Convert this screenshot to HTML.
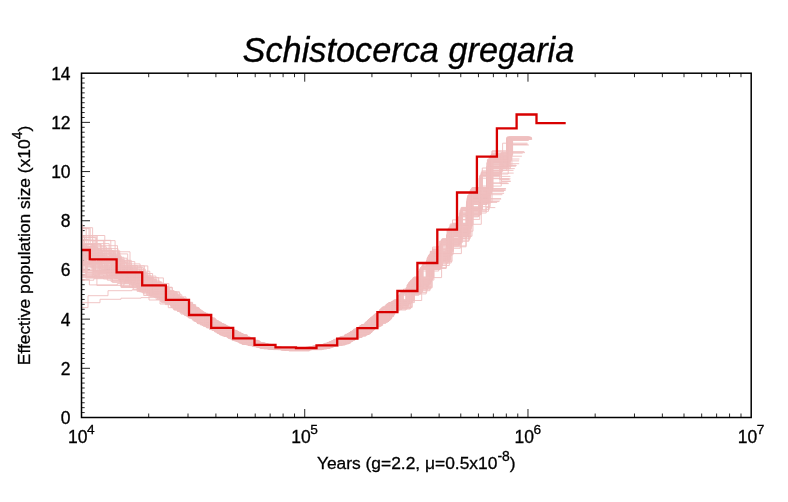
<!DOCTYPE html>
<html><head><meta charset="utf-8"><title>Schistocerca gregaria</title>
<style>
html,body{margin:0;padding:0;background:#fff;}
svg{display:block;will-change:transform;font-family:"Liberation Sans",sans-serif;}
</style></head>
<body>
<svg width="788" height="502" viewBox="0 0 788 502">
<rect width="788" height="502" fill="#fff"/>
<text x="408.4" y="61.9" text-anchor="middle" font-style="italic" font-size="34.3" fill="#000" stroke="#000" stroke-width="0.35">Schistocerca gregaria</text>
<path d="M81.5,412.58h3.2M81.5,407.66h3.2M81.5,402.74h3.2M81.5,397.83h3.2M81.5,392.91h3.2M81.5,387.99h3.2M81.5,383.07h3.2M81.5,378.15h3.2M81.5,373.23h3.2M81.5,368.31h8.5M81.5,363.40h3.2M81.5,358.48h3.2M81.5,353.56h3.2M81.5,348.64h3.2M81.5,343.72h3.2M81.5,338.80h3.2M81.5,333.88h3.2M81.5,328.97h3.2M81.5,324.05h3.2M81.5,319.13h8.5M81.5,314.21h3.2M81.5,309.29h3.2M81.5,304.37h3.2M81.5,299.45h3.2M81.5,294.54h3.2M81.5,289.62h3.2M81.5,284.70h3.2M81.5,279.78h3.2M81.5,274.86h3.2M81.5,269.94h8.5M81.5,265.02h3.2M81.5,260.11h3.2M81.5,255.19h3.2M81.5,250.27h3.2M81.5,245.35h3.2M81.5,240.43h3.2M81.5,235.51h3.2M81.5,230.59h3.2M81.5,225.68h3.2M81.5,220.76h8.5M81.5,215.84h3.2M81.5,210.92h3.2M81.5,206.00h3.2M81.5,201.08h3.2M81.5,196.16h3.2M81.5,191.25h3.2M81.5,186.33h3.2M81.5,181.41h3.2M81.5,176.49h3.2M81.5,171.57h8.5M81.5,166.65h3.2M81.5,161.73h3.2M81.5,156.82h3.2M81.5,151.90h3.2M81.5,146.98h3.2M81.5,142.06h3.2M81.5,137.14h3.2M81.5,132.22h3.2M81.5,127.30h3.2M81.5,122.39h8.5M81.5,117.47h3.2M81.5,112.55h3.2M81.5,107.63h3.2M81.5,102.71h3.2M81.5,97.79h3.2M81.5,92.87h3.2M81.5,87.96h3.2M81.5,83.04h3.2M81.5,78.12h3.2M148.70,417.5v-4.0M148.70,73.2v4.0M188.01,417.5v-4.0M188.01,73.2v4.0M215.90,417.5v-4.0M215.90,73.2v4.0M237.53,417.5v-4.0M237.53,73.2v4.0M255.21,417.5v-4.0M255.21,73.2v4.0M270.15,417.5v-4.0M270.15,73.2v4.0M283.10,417.5v-4.0M283.10,73.2v4.0M294.52,417.5v-4.0M294.52,73.2v4.0M304.73,417.5v-8.5M304.73,73.2v8.5M371.93,417.5v-4.0M371.93,73.2v4.0M411.24,417.5v-4.0M411.24,73.2v4.0M439.13,417.5v-4.0M439.13,73.2v4.0M460.77,417.5v-4.0M460.77,73.2v4.0M478.44,417.5v-4.0M478.44,73.2v4.0M493.39,417.5v-4.0M493.39,73.2v4.0M506.33,417.5v-4.0M506.33,73.2v4.0M517.75,417.5v-4.0M517.75,73.2v4.0M527.97,417.5v-8.5M527.97,73.2v8.5M595.17,417.5v-4.0M595.17,73.2v4.0M634.48,417.5v-4.0M634.48,73.2v4.0M662.37,417.5v-4.0M662.37,73.2v4.0M684.00,417.5v-4.0M684.00,73.2v4.0M701.68,417.5v-4.0M701.68,73.2v4.0M716.62,417.5v-4.0M716.62,73.2v4.0M729.57,417.5v-4.0M729.57,73.2v4.0M740.99,417.5v-4.0M740.99,73.2v4.0" fill="none" stroke="#000" stroke-width="0.85"/>
<g fill="none" stroke="#efbfbf" stroke-width="0.9" stroke-linejoin="miter"><path d="M81.5,275.0H103.5V278.9H129.7V287.3H154.3V297.5H177.7V311.5H200.3V324.9H222.4V336.0H244.0V344.2H265.2V348.1H285.9V350.2H306.4V348.7H327.0V343.5H347.4V334.1H367.5V321.1H387.5V308.1H407.5V289.9H427.4V264.0H447.2V236.7H467.0V204.2H487.0V170.3H506.8V138.5H528.9"/><path d="M81.5,247.6H97.9V259.6H124.2V278.0H149.1V287.6H172.4V305.6H195.1V320.2H217.1V331.8H238.8V341.7H259.9V347.0H280.6V348.7H301.0V348.5H321.5V344.6H341.9V336.5H362.0V325.1H381.9V308.3H401.8V292.0H421.7V266.7H441.5V240.0H461.2V208.5H481.1V172.6H501.0V165.6H516.7"/><path d="M81.5,270.0H85.8V278.1H112.4V282.4H137.9V290.8H161.6V302.8H184.6V315.6H206.7V327.8H228.5V338.3H249.7V345.7H270.6V349.2H291.0V350.1H311.3V347.7H331.7V341.8H351.9V331.8H371.8V318.1H391.6V303.1H411.5V280.8H431.3V252.5H451.0V228.1H470.7V190.1H490.6V159.2H510.4V138.8H527.3"/><path d="M81.5,264.2H102.1V269.6H128.7V281.9H153.6V295.3H177.3V311.1H200.2V323.8H222.5V335.1H244.3V343.5H265.7V348.5H286.6V349.6H307.3V348.4H328.0V343.6H348.6V334.3H368.8V321.1H389.0V304.3H409.1V284.8H429.1V257.6H449.0V231.9H468.9V198.7H489.0V162.1H508.8V137.7H527.0"/><path d="M81.5,246.9H94.5V266.1H121.9V278.8H147.8V291.7H172.1V306.0H195.6V321.0H218.4V332.9H240.7V342.5H262.5V348.4H283.8V349.6H304.8V348.2H325.9V343.7H346.8V334.7H367.3V321.8H387.7V303.9H408.1V285.5H428.3V258.6H448.4V232.0H468.4V200.7H488.6V159.6H508.5V137.6H528.8"/><path d="M81.5,248.9H92.2V267.8H118.2V279.2H143.0V291.9H166.1V303.4H188.7V317.0H210.3V329.4H231.8V339.4H252.7V346.0H273.3V349.6H293.4V349.0H313.5V347.0H333.8V340.6H353.7V330.7H373.4V316.6H393.1V301.8H412.8V279.6H432.5V248.9H452.0V224.0H471.7V188.2H491.5V158.5H511.2V139.3H532.1"/><path d="M81.5,252.6H91.4V245.7H117.5V274.8H142.5V285.8H165.6V301.0H188.2V316.1H209.9V328.5H231.5V338.9H252.4V345.3H273.0V348.6H293.2V349.1H313.3V346.5H333.6V340.0H353.6V329.9H373.4V315.9H393.1V301.1H412.8V278.7H432.6V251.1H452.1V223.4H471.8V191.3H491.7V168.6H514.8"/><path d="M81.5,251.9H100.2V258.2H127.0V279.0H152.3V294.5H176.2V308.8H199.3V323.5H221.8V334.6H243.9V343.4H265.4V347.9H286.5V349.5H307.3V347.6H328.2V342.5H348.9V333.1H369.2V319.4H389.5V302.7H409.7V281.8H429.8V254.3H449.8V227.3H469.8V193.2H489.9V157.4H509.7V137.7H528.3"/><path d="M81.5,251.6H85.2V262.8H111.6V270.8H136.9V287.6H160.5V299.1H183.3V314.0H205.2V326.0H226.9V337.2H248.0V344.8H268.7V348.2H289.0V349.8H309.2V347.7H329.5V342.1H349.6V333.1H369.4V320.1H389.2V303.5H409.0V284.0H428.7V256.9H448.3V232.1H468.0V199.6H487.9V173.1H513.7"/><path d="M81.5,257.3H89.3V251.2H115.2V278.3H140.0V289.6H163.1V301.2H185.6V314.8H207.3V327.7H228.7V337.7H249.5V345.5H270.0V348.5H290.1V349.9H310.1V347.8H330.3V342.2H350.2V332.8H369.8V319.6H389.4V303.2H409.1V283.9H428.7V256.6H448.2V234.9H467.8V199.2H487.5V162.7H507.3V139.0H530.4"/><path d="M81.5,249.3H101.9V265.7H128.7V282.2H153.8V295.3H177.7V309.6H200.8V323.5H223.3V335.6H245.2V344.2H266.7V348.0H287.8V349.2H308.6V348.2H329.5V342.9H350.2V333.6H370.5V319.6H390.8V302.8H411.0V282.2H431.1V252.3H451.1V229.1H471.1V193.2H491.2V159.2H511.0V138.1H531.7"/><path d="M81.5,262.9H97.1V272.8H124.3V282.3H150.0V293.3H174.1V309.4H197.4V323.4H220.1V334.8H242.3V343.8H263.9V348.5H285.2V349.5H306.1V347.7H327.1V343.1H347.9V333.5H368.4V320.1H388.7V303.0H409.0V282.0H429.2V254.3H449.2V227.9H469.2V192.0H489.4V159.6H509.3V139.1H528.5"/><path d="M81.5,248.3H82.9V270.7H111.0V281.6H137.7V288.6H162.6V302.6H186.5V316.3H209.5V329.4H232.2V340.5H254.1V346.6H275.7V349.2H296.8V349.1H317.8V345.9H339.0V337.9H359.6V326.3H380.0V309.7H400.4V292.9H420.7V267.8H440.9V241.1H460.9V210.5H481.0V173.9H501.1V153.1H522.7"/><path d="M81.5,255.8H87.9V257.4H114.2V268.9H139.4V291.8H162.8V301.1H185.5V315.0H207.4V327.1H229.0V337.4H250.0V345.4H270.7V348.1H291.0V349.0H311.2V346.9H331.5V341.7H351.5V332.0H371.3V318.2H391.1V302.6H410.8V282.2H430.6V255.5H450.2V231.2H469.8V194.7H489.7V161.0H509.4V137.6H530.0"/><path d="M81.5,237.3H84.5V248.3H111.3V268.8H136.8V282.9H160.7V298.0H183.7V313.0H205.9V326.0H227.7V336.9H249.0V344.7H269.9V348.2H290.3V349.0H310.7V347.0H331.2V341.1H351.4V331.9H371.3V318.4H391.1V307.8H411.0V289.0H430.9V260.6H450.5V238.4H470.3V206.7H490.2V167.1H510.0V139.3H529.9"/><path d="M81.5,252.6H101.8V267.6H128.5V282.2H153.6V294.6H177.4V311.1H200.4V323.8H222.9V335.4H244.8V344.0H266.3V348.5H287.3V348.9H308.1V347.5H328.9V342.5H349.6V333.0H369.9V319.7H390.1V302.9H410.3V282.1H430.4V256.1H450.3V227.5H470.3V191.3H490.4V156.2H510.2V138.8H530.6"/><path d="M81.5,243.9H100.4V269.7H127.2V281.7H152.4V293.1H176.2V309.0H199.2V323.1H221.7V334.8H243.6V343.3H265.1V348.0H286.1V349.1H306.9V347.5H327.7V342.8H348.4V333.6H368.7V319.8H388.9V302.9H409.1V282.9H429.2V255.0H449.1V232.2H469.1V194.1H489.1V159.9H509.0V136.9H529.6"/><path d="M81.5,227.7H92.6V251.0H118.6V267.6H143.4V284.7H166.5V300.5H189.0V316.0H210.6V328.2H232.1V338.5H253.0V345.4H273.5V348.3H293.6V348.5H313.7V345.8H334.0V339.9H353.9V329.8H373.6V315.9H393.3V301.1H413.0V278.6H432.7V249.9H452.2V224.0H471.8V191.6H491.7V160.1H511.4V138.0H532.0"/><path d="M81.5,276.4H96.9V285.4H124.1V282.4H149.7V296.3H173.8V309.9H197.1V323.1H219.7V334.6H241.9V344.3H263.5V348.6H284.7V350.3H305.6V348.9H326.6V343.8H347.4V334.6H367.8V321.0H388.1V307.2H408.3V288.5H428.5V262.0H448.5V236.5H468.4V201.3H488.5V166.2H515.9"/><path d="M81.5,258.3H91.0V267.9H117.3V272.3H142.4V292.8H165.7V303.8H188.4V316.3H210.3V329.3H231.9V339.2H252.9V346.2H273.6V349.1H293.9V348.9H314.1V346.5H334.5V340.5H354.5V329.9H374.3V315.2H394.1V300.7H413.9V277.7H433.7V254.2H453.3V224.2H473.0V188.1H492.9V155.1H512.6V140.5H528.7"/><path d="M81.5,246.8H106.3V267.3H132.3V279.7H156.7V292.9H180.0V310.9H202.5V324.2H224.5V335.1H246.1V343.7H267.1V348.0H287.8V349.1H308.3V348.0H328.9V342.4H349.2V333.0H369.3V320.0H389.3V303.1H409.2V283.1H429.2V255.7H448.9V233.2H468.7V196.1H488.7V161.6H508.5V144.5H526.8"/><path d="M81.5,245.7H86.5V252.0H114.1V271.5H140.4V288.9H164.8V301.2H188.4V317.6H211.1V329.4H233.6V339.8H255.3V346.4H276.7V349.0H297.5V348.3H318.4V344.6H339.4V337.3H359.9V325.8H380.1V309.2H400.4V293.3H420.6V267.5H440.6V243.1H460.5V214.4H480.5V191.6H504.0"/><path d="M81.5,264.6H93.7V273.2H121.0V286.5H146.8V294.9H171.0V307.5H194.4V321.4H217.1V333.5H239.4V343.2H261.0V348.3H282.3V350.2H303.2V348.9H324.1V344.1H345.0V335.8H365.4V322.9H385.7V310.0H406.0V293.9H426.2V268.5H446.2V246.8H466.1V213.0H486.2V207.6H495.3"/><path d="M81.5,279.6H89.4V284.9H117.3V283.6H143.8V293.9H168.3V307.7H192.1V319.7H215.1V332.0H237.7V342.2H259.6V347.8H281.1V350.1H302.2V349.2H323.4V344.9H344.4V335.7H365.1V323.3H385.6V305.4H406.0V288.2H426.3V261.2H446.5V235.4H466.6V201.6H486.7V167.6H506.7V139.3H531.0"/><path d="M81.5,244.5H86.7V263.2H113.0V271.4H138.2V284.4H161.7V300.1H184.4V314.7H206.3V326.8H227.9V337.3H249.0V345.2H269.7V348.4H289.9V348.9H310.1V347.7H330.4V342.2H350.5V331.8H370.3V318.6H390.0V302.8H409.8V282.4H429.5V255.0H449.1V227.1H468.8V197.7H488.7V193.4H504.1"/><path d="M81.5,228.1H86.2V253.9H112.4V265.5H137.4V282.2H160.8V297.2H183.4V312.6H205.3V325.8H226.8V336.0H247.8V344.0H268.4V348.0H288.6V349.1H308.7V347.1H328.9V342.3H348.9V333.5H368.7V319.8H388.3V302.9H408.1V284.6H427.8V257.9H447.3V229.2H467.0V199.4H486.8V183.0H507.3"/><path d="M81.5,255.8H92.3V276.8H119.3V279.6H144.9V290.7H168.8V304.3H192.0V319.0H214.4V331.4H236.5V341.5H257.9V347.3H279.0V349.5H299.7V348.7H320.4V345.3H341.1V336.8H361.4V325.1H381.6V308.6H401.7V291.9H421.8V266.4H441.7V239.9H461.5V210.8H481.5V173.2H501.5V181.2H510.6"/><path d="M81.5,244.0H83.2V249.8H109.8V270.8H135.3V280.2H159.1V297.4H182.0V312.5H204.2V324.4H225.9V335.6H247.1V344.1H268.0V348.0H288.4V349.0H308.6V348.0H329.0V342.7H349.2V333.3H369.0V320.7H388.8V303.4H408.6V285.1H428.4V258.0H448.1V235.3H467.8V197.1H487.6V166.1H507.4V138.8H527.5"/><path d="M81.5,267.1H93.5V271.5H119.2V281.3H143.7V295.5H166.6V302.5H188.9V316.5H210.3V328.6H231.6V338.9H252.3V345.7H272.7V349.2H292.7V349.3H312.6V347.3H332.8V341.5H352.6V332.2H372.1V318.4H391.7V302.6H411.3V282.7H430.9V254.2H450.3V231.9H469.9V196.1H489.7V162.4H509.4V137.3H528.5"/><path d="M81.5,248.5H97.9V261.4H125.1V275.2H150.9V293.7H175.1V307.8H198.5V322.9H221.2V334.2H243.5V343.6H265.2V348.4H286.5V349.4H307.5V347.6H328.6V342.6H349.5V333.0H369.9V318.8H390.3V302.5H410.7V281.4H430.9V253.5H451.0V228.5H471.1V193.4H491.2V156.7H511.1V139.1H527.2"/><path d="M81.5,274.3H107.3V280.2H133.3V289.8H157.7V298.1H181.0V312.1H203.5V325.0H225.5V336.4H247.1V344.5H268.2V349.0H288.8V349.5H309.3V348.1H330.0V343.1H350.3V333.5H370.4V319.9H390.4V303.2H410.4V283.5H430.3V259.6H450.1V233.6H469.9V198.2H489.9V170.4H513.5"/><path d="M81.5,280.2H93.8V278.7H121.1V287.5H147.0V295.1H171.2V307.1H194.6V320.6H217.3V332.6H239.6V342.8H261.3V347.8H282.5V349.4H303.5V348.6H324.4V345.0H345.3V336.1H365.8V323.0H386.1V305.3H406.4V287.7H426.6V260.8H446.7V235.3H466.7V204.5H486.8V166.1H506.7V138.4H528.7"/><path d="M81.5,259.9H85.4V266.6H112.1V272.7H137.5V286.3H161.2V299.1H184.1V314.8H206.3V327.6H228.0V338.0H249.2V345.4H270.1V348.7H290.5V349.6H310.8V347.1H331.2V341.5H351.3V331.6H371.2V317.4H391.1V302.5H410.9V280.3H430.7V251.3H450.3V229.6H470.1V192.8H490.0V159.9H509.7V138.8H532.1"/><path d="M81.5,241.9H82.5V272.2H109.5V275.2H135.3V285.2H159.4V299.8H182.5V313.2H204.9V326.0H226.8V336.9H248.2V345.0H269.2V348.7H289.8V349.6H310.2V347.5H330.8V341.7H351.1V332.4H371.1V318.9H391.0V303.0H410.9V281.7H430.8V251.9H450.5V228.9H470.3V194.3H490.3V161.9H510.0V137.7H527.1"/><path d="M81.5,244.8H87.1V250.5H113.5V274.4H138.7V283.4H162.2V298.4H184.9V314.5H206.8V327.1H228.5V337.4H249.6V345.0H270.3V348.4H290.6V348.7H310.7V346.7H331.1V341.3H351.1V331.4H370.9V317.3H390.7V305.0H410.5V284.5H430.2V258.1H449.8V232.9H469.5V198.5H489.3V164.5H509.1V139.3H530.9"/><path d="M81.5,265.1H98.9V277.3H124.9V280.9H149.6V294.2H172.8V306.8H195.3V321.1H217.2V332.8H238.7V342.2H259.7V347.6H280.4V349.8H300.6V348.9H321.0V345.4H341.4V337.3H361.4V326.1H381.2V309.5H401.0V293.7H420.9V269.0H440.6V244.1H460.3V211.0H480.1V175.5H500.0V183.6H508.7"/><path d="M81.5,269.0H86.1V276.4H112.3V280.4H137.3V289.9H160.6V301.7H183.2V312.9H205.0V325.8H226.5V336.3H247.4V344.6H268.0V348.6H288.2V350.0H308.2V348.4H328.4V343.6H348.4V334.5H368.1V321.8H387.8V305.1H407.5V287.1H427.2V260.7H446.7V238.6H466.4V204.3H486.2V202.4H497.1"/><path d="M81.5,244.3H101.2V253.9H127.7V273.5H152.6V291.5H176.2V307.6H199.0V322.4H221.3V333.6H243.1V343.0H264.4V347.5H285.3V349.0H305.9V347.2H326.6V343.1H347.1V333.9H367.3V320.7H387.4V303.8H407.5V285.3H427.5V258.6H447.3V235.6H467.2V204.4H487.2V178.7H509.2"/><path d="M81.5,261.5H85.6V270.4H112.0V277.3H137.1V291.4H160.6V301.4H183.3V313.8H205.3V326.5H226.8V337.0H247.9V345.1H268.5V349.0H288.8V350.1H308.9V348.0H329.2V343.0H349.2V334.5H369.0V321.2H388.7V304.6H408.5V285.1H428.2V258.8H447.7V230.7H467.4V202.1H487.2V168.4H506.9V137.2H530.3"/><path d="M81.5,252.1H102.7V267.0H129.0V277.5H153.7V292.2H177.2V309.8H199.9V323.7H222.1V334.8H243.8V343.7H265.0V347.8H285.8V349.2H306.4V347.7H327.0V342.9H347.5V334.0H367.7V320.4H387.7V304.0H407.7V284.4H427.7V257.1H447.5V234.9H467.4V197.6H487.3V162.8H507.2V139.1H530.0"/><path d="M81.5,239.4H88.2V262.3H114.4V274.6H139.5V282.9H162.8V300.7H185.4V314.8H207.3V327.0H228.8V337.2H249.8V344.9H270.4V348.2H290.7V349.2H310.8V346.9H331.1V341.1H351.1V332.0H370.8V318.1H390.5V302.8H410.2V281.7H429.9V254.5H449.5V227.9H469.1V197.6H489.0V161.1H508.7V138.0H527.2"/><path d="M81.5,235.5H104.8V263.0H131.2V276.1H155.9V291.7H179.4V310.3H202.1V324.4H224.4V335.3H246.1V344.0H267.3V348.2H288.1V349.3H308.8V347.2H329.5V342.3H350.0V332.8H370.2V318.6H390.3V302.5H410.3V281.6H430.4V255.3H450.2V224.0H470.1V195.1H490.1V156.4H509.9V138.1H529.4"/><path d="M81.5,250.3H90.5V259.6H117.8V272.0H143.7V288.7H167.8V304.3H191.2V318.5H213.8V330.4H236.0V340.8H257.6V346.9H278.9V349.2H299.7V348.4H320.5V344.8H341.4V336.6H361.8V324.8H382.0V307.4H402.2V290.9H422.4V265.1H442.4V238.7H462.3V207.9H482.3V168.0H502.3V159.0H519.4"/><path d="M81.5,257.3H104.8V269.3H131.3V285.0H156.1V299.5H179.7V311.9H202.5V325.3H224.8V336.5H246.6V344.6H267.9V348.8H288.8V349.2H309.5V347.5H330.3V341.7H350.9V331.8H371.1V318.2H391.2V302.0H411.4V280.7H431.4V255.6H451.3V228.0H471.2V191.0H491.3V160.9H511.1V138.5H527.7"/><path d="M81.5,249.0H86.4V263.3H112.8V276.9H137.9V281.7H161.4V297.9H184.1V312.9H206.0V325.8H227.6V336.8H248.6V344.2H269.3V348.3H289.6V349.6H309.7V347.1H330.0V342.3H350.0V332.7H369.8V320.1H389.5V303.2H409.3V283.8H429.0V257.0H448.6V231.1H468.2V197.5H488.0V160.6H507.8V137.2H527.7"/><path d="M81.5,240.7H103.7V251.8H130.0V279.4H154.6V294.7H178.1V309.8H200.8V323.6H222.9V334.7H244.6V343.2H265.8V347.5H286.5V349.2H307.1V347.3H327.7V342.7H348.2V333.2H368.3V319.6H388.4V303.2H408.4V283.8H428.4V256.3H448.2V229.1H468.0V195.6H488.0V161.4H507.8V145.0H528.9"/><path d="M81.5,255.0H102.9V260.3H129.6V283.2H154.6V295.6H178.4V310.5H201.4V324.7H223.8V336.1H245.7V344.3H267.2V348.8H288.2V349.3H308.9V347.2H329.8V342.4H350.4V332.3H370.7V318.4H391.0V302.2H411.1V280.7H431.3V254.1H451.2V228.4H471.1V189.1H491.2V158.2H511.0V138.1H529.9"/><path d="M81.5,271.0H108.1V273.8H133.7V285.2H157.7V299.4H180.6V311.8H202.9V325.1H224.6V335.5H245.9V343.8H266.8V348.6H287.3V349.6H307.5V347.8H327.9V343.2H348.2V334.4H368.1V321.1H387.9V304.4H407.8V285.5H427.6V259.3H447.3V233.6H467.0V200.7H486.9V188.5H505.9"/><path d="M81.5,246.8H92.7V252.9H119.7V269.1H145.3V287.0H169.1V302.8H192.3V317.9H214.6V330.4H236.7V340.4H258.1V346.8H279.2V348.8H299.8V348.6H320.5V345.0H341.2V337.1H361.5V325.5H381.6V308.8H401.7V292.5H421.8V267.3H441.8V241.0H461.6V214.3H481.5V172.9H501.5V165.2H516.0"/><path d="M81.5,270.3H93.3V271.0H118.9V275.9H143.5V289.2H166.3V302.9H188.6V316.9H210.1V329.5H231.4V339.3H252.1V346.2H272.4V348.6H292.4V349.0H312.3V346.4H332.5V340.8H352.3V330.5H371.8V316.9H391.4V302.1H411.0V280.5H430.6V255.0H450.0V225.4H469.6V195.3H489.3V157.5H509.0V138.7H530.7"/><path d="M81.5,262.4H99.8V262.8H126.5V279.3H151.7V295.2H175.5V308.7H198.5V322.3H220.9V333.8H242.8V343.0H264.2V348.4H285.2V349.4H305.9V348.4H326.7V343.6H347.3V334.6H367.6V322.0H387.8V304.1H407.9V285.7H428.0V259.1H447.9V235.1H467.8V201.6H487.8V190.5H505.6"/><path d="M81.5,256.0H104.6V268.3H129.9V284.0H153.7V294.6H176.3V308.2H198.3V321.8H219.8V333.1H240.9V342.4H261.5V347.5H281.8V349.2H301.8V348.8H321.8V344.7H341.9V336.5H361.7V325.8H381.3V309.5H400.9V293.6H420.6V269.1H440.2V241.0H459.7V212.8H479.5V198.6H501.0"/><path d="M81.5,255.7H107.5V268.7H133.3V284.2H157.6V296.7H180.8V312.1H203.2V325.2H225.1V335.9H246.6V344.1H267.6V348.0H288.2V349.1H308.6V347.4H329.2V342.4H349.5V333.7H369.5V319.7H389.4V303.3H409.4V282.9H429.2V255.6H449.0V230.3H468.8V199.4H488.7V162.9H508.5V137.4H530.6"/><path d="M81.5,228.2H90.2V248.6H118.0V265.9H144.4V283.5H168.9V302.3H192.6V318.7H215.6V331.1H238.1V340.9H260.0V347.0H281.5V348.4H302.6V347.5H323.7V343.5H344.8V334.7H365.4V322.3H385.9V304.6H406.3V287.5H426.6V259.9H446.7V234.7H466.8V202.8H487.0V162.4H507.0V137.5H527.9"/><path d="M81.5,263.8H106.7V270.4H131.7V281.6H155.3V294.4H177.8V309.1H199.6V323.0H220.9V334.0H241.9V342.9H262.3V348.0H282.5V349.4H302.4V348.7H322.4V344.9H342.4V337.0H362.1V325.7H381.6V309.5H401.2V293.9H420.8V269.5H440.4V245.4H459.9V219.4H479.7V189.9H505.3"/><path d="M81.5,240.1H93.9V250.8H119.8V272.6H144.4V287.7H167.4V302.5H189.8V317.0H211.4V328.9H232.9V338.7H253.6V345.6H274.1V348.6H294.2V348.7H314.3V346.1H334.5V340.2H354.4V330.1H374.0V316.4H393.7V301.3H413.3V279.2H433.0V251.8H452.5V225.1H472.1V191.2H491.9V154.9H511.6V138.2H527.5"/><path d="M81.5,252.5H99.3V277.0H124.6V283.7H148.6V293.0H171.2V305.8H193.2V320.8H214.5V331.8H235.6V340.9H256.1V346.7H276.3V349.1H296.1V349.3H316.0V345.8H336.0V338.9H355.7V328.7H375.1V313.5H394.6V299.7H414.2V276.9H433.7V250.9H453.0V223.3H472.6V187.9H492.3V156.2H512.0V137.5H528.9"/><path d="M81.5,243.7H91.3V257.4H117.3V271.0H142.2V287.1H165.3V300.9H187.8V316.3H209.5V328.0H231.0V338.4H251.9V345.5H272.5V348.7H292.6V348.8H312.7V346.5H333.0V340.4H352.9V330.8H372.6V316.9H392.3V306.8H412.0V286.8H431.7V263.0H451.2V236.7H470.9V203.0H490.7V168.8H510.4V137.5H530.2"/><path d="M81.5,259.3H95.5V272.1H123.1V285.4H149.0V300.0H173.4V309.1H197.0V322.9H219.8V334.7H242.2V344.0H264.1V348.8H285.4V350.1H306.5V348.5H327.7V343.8H348.6V334.3H369.2V320.4H389.6V303.7H410.0V282.5H430.3V251.4H450.4V231.4H470.5V193.7H490.7V159.7H510.6V139.0H529.0"/><path d="M81.5,258.0H106.6V275.2H132.4V287.9H156.7V298.1H179.8V311.0H202.2V324.2H224.2V335.7H245.6V343.8H266.6V348.2H287.2V349.9H307.6V347.9H328.1V343.1H348.4V334.2H368.4V320.9H388.3V304.3H408.2V285.6H428.1V258.3H447.8V231.3H467.5V199.3H487.4V162.9H507.3V137.3H529.1"/><path d="M81.5,244.7H94.1V257.3H121.7V265.9H147.8V287.2H172.1V304.7H195.7V320.8H218.6V332.3H241.0V342.6H262.9V347.6H284.2V349.2H305.3V348.2H326.5V343.1H347.4V334.3H368.0V321.2H388.4V306.0H408.8V287.5H429.1V261.1H449.2V237.0H469.3V203.2H489.5V164.2H509.4V138.7H528.9"/><path d="M81.5,244.7H92.9V263.0H120.4V275.3H146.4V290.8H170.7V305.0H194.3V320.5H217.1V332.5H239.5V342.4H261.2V347.6H282.6V349.3H303.6V348.1H324.7V343.3H345.6V334.2H366.1V321.5H386.5V304.0H406.9V285.2H427.1V257.9H447.2V230.1H467.2V197.9H487.4V159.8H507.3V138.3H529.8"/><path d="M81.5,253.7H104.2V272.8H130.8V283.3H155.8V295.0H179.5V311.6H202.4V325.1H224.9V336.2H246.7V344.8H268.2V348.3H289.1V349.5H309.9V347.4H330.8V341.4H351.4V332.0H371.7V317.2H391.9V307.6H412.1V287.7H432.2V261.4H452.1V236.2H472.0V202.1H492.1V165.9H511.9V138.3H528.5"/><path d="M81.5,257.3H106.2V260.4H131.3V279.2H154.9V294.3H177.4V309.0H199.2V323.0H220.6V333.9H241.5V342.7H262.0V347.5H282.2V349.5H302.1V348.2H322.1V344.5H342.1V336.4H361.7V324.6H381.3V308.4H400.8V292.9H420.4V268.5H440.0V244.5H459.4V213.1H479.1V178.2H498.9V178.8H510.5"/><path d="M81.5,236.0H97.2V261.7H122.7V275.8H147.0V287.9H169.8V305.0H192.0V318.4H213.5V329.9H234.8V339.9H255.4V346.1H275.8V348.9H295.7V348.6H315.7V345.8H335.8V339.7H355.6V329.1H375.2V314.5H394.7V302.6H414.4V280.1H433.9V251.5H453.4V231.2H473.0V190.4H492.8V153.3H512.4V151.6H524.3"/><path d="M81.5,250.7H93.7V275.2H119.2V269.8H143.7V291.5H166.4V302.5H188.6V316.7H210.0V328.7H231.2V338.3H251.8V345.7H272.1V348.8H292.1V349.5H311.9V346.9H332.0V341.4H351.7V331.8H371.3V319.4H390.8V309.0H410.3V290.7H429.9V265.5H449.3V241.3H468.8V211.3H488.5V174.0H508.2V139.3H527.9"/><path d="M81.5,224.3H82.3V243.6H109.2V261.6H134.8V277.7H158.7V294.8H181.8V311.5H204.0V325.1H225.8V335.4H247.1V343.8H268.0V347.4H288.5V348.5H308.8V346.9H329.2V341.8H349.4V332.5H369.4V318.9H389.2V302.6H409.1V282.5H428.9V255.5H448.6V233.5H468.3V195.1H488.2V158.9H508.0V138.3H529.9"/><path d="M81.5,243.6H94.0V255.2H120.7V279.7H146.1V289.2H169.8V303.8H192.9V318.3H215.1V330.6H237.1V340.4H258.4V346.8H279.4V349.0H300.0V348.7H320.6V344.8H341.3V336.7H361.5V325.2H381.6V309.3H401.6V300.5H421.7V277.6H441.6V253.6H461.4V224.3H481.3V186.1H501.3V181.4H510.7"/><path d="M81.5,261.4H87.2V273.7H113.4V277.6H138.4V289.4H161.8V300.8H184.3V314.4H206.2V327.4H227.7V337.9H248.6V345.4H269.2V348.8H289.4V349.7H309.5V347.5H329.7V342.0H349.7V333.2H369.4V319.7H389.1V303.3H408.8V283.3H428.5V256.9H448.0V234.3H467.6V202.9H487.4V162.3H507.2V138.1H527.3"/><path d="M81.5,269.1H98.1V272.6H125.1V280.6H150.6V295.8H174.5V309.3H197.8V323.7H220.3V334.4H242.4V344.1H263.9V348.3H285.1V349.8H305.9V348.3H326.8V343.5H347.6V334.4H368.0V321.2H388.2V303.7H408.4V284.0H428.6V256.3H448.6V228.7H468.6V196.0H488.6V159.9H508.5V139.5H530.1"/><path d="M81.5,238.5H82.2V261.7H108.5V273.3H133.5V283.2H157.1V296.4H179.6V311.3H201.5V324.8H222.9V335.2H243.9V343.6H264.4V348.2H284.6V350.1H304.6V348.2H324.6V344.0H344.7V335.2H364.3V323.1H383.9V306.2H403.5V289.1H423.2V263.8H442.7V239.7H462.2V208.2H481.9V170.8H501.8V156.2H521.9"/><path d="M81.5,247.5H97.6V263.5H123.9V277.2H148.8V292.5H172.2V305.4H194.9V320.4H217.0V332.2H238.7V342.0H259.8V347.0H280.6V349.4H301.0V348.5H321.4V345.0H341.9V336.8H362.0V325.1H381.9V308.9H401.9V292.1H421.8V267.0H441.6V239.2H461.3V207.4H481.2V174.6H501.1V152.6H525.0"/><path d="M81.5,236.5H84.4V240.3H110.8V266.9H135.9V284.5H159.5V298.4H182.1V312.8H204.0V325.4H225.6V336.0H246.6V343.9H267.3V347.5H287.5V349.0H307.6V347.4H327.8V342.5H347.9V333.7H367.6V320.9H387.3V308.9H407.1V292.4H426.8V267.6H446.4V245.9H466.0V210.8H485.9V189.0H506.1"/><path d="M81.5,256.3H99.6V271.6H126.4V278.3H151.6V294.8H175.5V308.9H198.6V323.0H221.0V334.4H243.0V343.3H264.5V348.3H285.5V349.7H306.3V348.0H327.1V343.1H347.8V334.1H368.1V320.6H388.3V303.7H408.5V283.7H428.6V256.3H448.6V228.1H468.5V197.6H488.6V160.9H508.4V138.2H531.9"/><path d="M81.5,261.9H101.3V270.3H127.1V278.3H151.5V293.8H174.6V307.8H197.0V321.8H218.8V333.5H240.2V342.5H261.1V347.3H281.7V349.0H301.9V348.4H322.2V344.4H342.5V336.3H362.4V324.8H382.2V308.4H402.0V291.9H421.9V266.8H441.6V242.0H461.2V213.8H481.1V190.0H503.5"/><path d="M81.5,271.0H87.1V262.3H114.4V276.5H140.5V290.4H164.6V302.4H188.1V317.6H210.6V329.7H232.9V339.6H254.4V346.3H275.6V349.1H296.4V348.6H317.1V346.1H338.0V338.3H358.3V327.1H378.5V311.2H398.6V295.3H418.8V271.0H438.7V246.1H458.5V216.9H478.5V201.0H499.9"/><path d="M81.5,252.1H93.6V271.0H121.3V286.9H147.6V292.4H172.1V307.7H195.8V321.9H218.8V334.1H241.3V343.2H263.2V348.0H284.7V350.0H305.8V348.4H327.1V343.3H348.1V334.3H368.7V320.2H389.2V303.4H409.7V282.7H430.1V253.6H450.2V232.6H470.3V196.8H490.6V160.1H510.5V138.2H528.0"/><path d="M81.5,246.8H95.9V258.8H122.3V272.7H147.3V292.9H170.7V305.7H193.5V319.7H215.6V331.5H237.3V341.1H258.5V347.3H279.3V349.2H299.7V348.3H320.1V345.0H340.6V336.7H360.7V325.7H380.7V309.0H400.6V293.0H420.5V268.4H440.3V244.3H460.0V215.6H479.9V175.6H499.8V179.5H509.6"/><path d="M81.5,272.5H106.7V274.2H132.6V287.3H156.9V296.9H180.0V312.9H202.5V325.2H224.4V336.3H245.9V344.7H266.9V348.5H287.5V350.1H307.9V347.8H328.4V343.1H348.8V333.6H368.8V319.8H388.7V303.6H408.6V283.6H428.5V255.9H448.2V229.2H468.0V195.9H487.9V163.0H507.7V138.3H529.9"/><path d="M81.5,258.0H86.4V251.5H113.1V273.2H138.6V287.7H162.3V298.9H185.3V314.9H207.4V327.0H229.2V337.3H250.5V345.3H271.3V348.6H291.8V349.0H312.1V346.2H332.6V340.8H352.8V330.9H372.7V316.6H392.6V301.6H412.5V279.2H432.3V255.5H452.0V225.2H471.7V191.6H491.6V157.8H511.4V139.0H529.2"/><path d="M81.5,263.3H105.8V270.4H131.8V279.5H156.2V295.6H179.4V310.5H201.9V324.8H223.9V335.7H245.4V344.0H266.4V348.2H287.1V348.9H307.5V347.5H328.1V342.5H348.4V333.2H368.4V320.0H388.4V303.6H408.3V283.2H428.2V255.9H448.0V230.5H467.8V195.3H487.7V159.5H507.5V137.2H531.2"/><path d="M81.5,249.3H84.5V262.9H112.4V275.7H138.9V288.6H163.4V301.4H187.2V316.3H210.0V329.5H232.6V339.7H254.4V346.6H275.8V349.2H296.8V349.2H317.7V345.9H338.8V338.0H359.3V326.8H379.6V310.0H400.0V293.9H420.2V268.5H440.3V248.3H460.3V214.6H480.3V175.3H500.4V176.4H510.4"/><path d="M81.5,228.7H89.0V240.6H115.1V263.9H140.1V277.9H163.4V296.9H186.0V313.3H207.8V326.3H229.3V337.0H250.3V344.3H270.9V347.9H291.1V348.6H311.2V346.7H331.5V341.5H351.5V331.8H371.2V318.3H390.9V302.4H410.7V282.1H430.3V255.3H449.9V231.1H469.5V193.5H489.4V160.4H509.1V160.9H519.1"/><path d="M81.5,252.7H94.1V257.4H119.7V274.1H144.2V288.0H167.0V302.3H189.3V316.9H210.7V328.8H232.0V339.0H252.7V345.5H273.0V347.9H293.0V348.7H312.9V346.1H333.0V340.1H352.8V330.2H372.4V316.0H391.9V301.3H411.5V279.7H431.1V254.3H450.5V228.8H470.1V190.2H489.8V160.5H509.5V137.8H530.8"/><path d="M81.5,265.9H94.7V271.1H122.1V278.4H148.0V291.3H172.2V307.8H195.7V321.3H218.5V333.1H240.8V342.9H262.5V347.8H283.8V349.9H304.8V348.5H325.9V344.0H346.8V334.7H367.3V321.4H387.6V304.5H408.0V284.8H428.2V257.5H448.3V231.6H468.3V196.9H488.5V161.9H508.4V139.2H531.6"/><path d="M81.5,237.3H96.5V257.3H123.9V271.2H149.8V290.5H174.1V307.1H197.5V322.1H220.4V333.9H242.7V343.0H264.5V347.7H285.8V348.8H306.8V347.6H328.0V342.4H348.9V333.0H369.4V318.6H389.8V302.4H410.2V281.5H430.5V252.3H450.6V227.1H470.7V192.3H490.8V155.0H510.7V137.4H527.7"/><path d="M81.5,265.5H86.5V277.4H114.3V278.6H140.8V292.0H165.3V304.6H189.1V318.2H211.9V330.2H234.5V341.0H256.3V347.3H277.8V349.6H298.7V348.8H319.7V345.5H340.8V336.9H361.3V324.9H381.7V307.8H402.1V291.1H422.3V264.8H442.5V242.6H462.4V209.7H482.5V171.7H502.6V143.2H527.4"/><path d="M81.5,246.8H87.0V264.9H113.7V272.0H139.1V287.1H162.8V300.6H185.7V314.6H207.9V327.6H229.7V338.9H250.9V345.5H271.7V348.8H292.2V349.3H312.5V346.9H333.0V340.5H353.1V330.2H373.0V315.9H392.9V300.8H412.8V278.4H432.6V247.1H452.3V225.8H472.0V187.7H492.0V150.9H511.7V138.1H531.8"/><path d="M81.5,277.6H104.0V275.8H129.4V284.7H153.3V296.5H176.1V309.6H198.1V323.1H219.6V333.9H240.8V343.1H261.5V348.0H281.8V349.9H301.8V349.1H321.9V344.9H342.0V336.7H361.8V325.4H381.4V308.4H401.1V293.1H420.8V267.5H440.4V242.7H459.9V210.0H479.6V176.4H499.5V163.7H519.2"/><path d="M81.5,252.5H98.2V268.6H125.5V279.7H151.2V293.7H175.4V309.3H198.8V323.3H221.5V335.2H243.8V344.1H265.5V347.8H286.7V349.5H307.8V347.5H328.8V342.4H349.7V332.9H370.2V318.1H390.6V302.3H410.9V280.1H431.2V253.9H451.2V225.6H471.3V189.8H491.5V154.3H511.3V139.8H528.6"/><path d="M81.5,237.6H95.3V258.6H121.0V273.4H145.5V286.6H168.4V302.4H190.8V317.6H212.3V330.0H233.7V339.9H254.4V346.1H274.8V348.4H294.8V348.7H314.8V345.7H335.0V339.1H354.9V329.0H374.5V314.6H394.1V300.4H413.7V277.8H433.3V251.5H452.8V226.1H472.4V187.7H492.2V153.0H511.9V138.5H530.6"/><path d="M81.5,243.5H95.0V256.6H121.4V272.7H146.4V291.9H169.9V304.7H192.7V319.7H214.7V331.1H236.4V341.0H257.6V346.8H278.4V349.4H298.7V348.4H319.2V344.9H339.7V337.0H359.8V325.8H379.7V309.8H399.6V293.6H419.5V269.0H439.4V241.3H459.0V216.4H478.9V201.6H498.9"/><path d="M81.5,250.9H95.0V276.4H122.3V275.7H148.1V293.8H172.3V306.9H195.7V321.5H218.4V332.7H240.7V342.9H262.3V348.1H283.6V349.7H304.5V348.6H325.5V343.6H346.4V335.2H366.9V321.8H387.2V304.6H407.5V286.2H427.7V259.0H447.8V233.3H467.8V200.0H487.9V160.3H507.8V138.4H531.2"/><path d="M81.5,250.8H101.9V262.5H128.4V276.9H153.4V292.3H177.0V308.8H199.9V323.3H222.2V334.5H244.0V343.3H265.3V347.6H286.3V348.9H306.9V347.7H327.7V342.9H348.2V333.6H368.5V320.0H388.6V306.1H408.7V287.4H428.7V260.8H448.6V235.6H468.5V199.8H488.5V166.8H508.4V137.6H528.9"/><path d="M81.5,247.8H90.1V254.1H116.4V266.9H141.5V283.5H164.9V301.1H187.6V316.5H209.5V328.3H231.1V338.9H252.2V345.6H272.9V348.2H293.2V348.7H313.4V346.1H333.8V339.4H353.8V329.0H373.6V314.9H393.4V300.2H413.2V277.5H432.9V249.5H452.5V219.9H472.3V188.3H492.1V151.2H511.8V139.6H528.0"/><path d="M81.5,275.8H97.2V273.3H124.6V281.3H150.4V296.2H174.6V310.0H198.1V323.6H220.8V335.0H243.2V343.6H264.9V348.2H286.2V350.1H307.2V347.7H328.4V342.9H349.2V333.2H369.8V318.9H390.2V302.8H410.5V281.2H430.8V252.9H450.9V226.1H470.9V189.1H491.1V155.2H511.0V137.5H527.4"/><path d="M81.5,253.8H88.8V256.4H116.2V275.8H142.3V287.3H166.4V303.0H189.9V318.0H212.5V330.2H234.8V340.8H256.5V346.7H277.7V349.3H298.5V348.8H319.4V344.9H340.3V337.0H360.7V325.3H380.9V308.7H401.1V292.2H421.3V267.3H441.3V243.7H461.1V207.8H481.1V199.1H501.2"/><path d="M81.5,241.4H83.7V253.8H110.5V273.4H136.1V282.6H160.0V299.0H182.9V313.0H205.1V326.3H227.0V336.8H248.2V344.8H269.1V348.4H289.6V349.2H309.9V346.9H330.4V341.5H350.6V331.7H370.5V317.9H390.3V308.2H410.2V288.9H430.0V262.8H449.7V240.1H469.4V209.4H489.3V167.4H509.1V144.2H528.1"/><path d="M81.5,302.7H100.0V299.3H121.0V298.2H141.0V297.6H160.0V304.0H181.0V314.1H203.5V326.5H225.6V334.6H247.1V343.9H268.2V348.4H288.9V351.0H309.4V348.5H330.0V342.9H350.4V333.3H370.5V318.2H390.5V302.6H410.5V281.2H430.4V254.3H450.2V227.0H470.0V193.8H490.0V183.2H508.3"/><path d="M81.5,307.6H88.0V295.7H108.0V290.7H132.0V289.8H152.0V295.5H172.0V304.7H194.9V320.1H217.0V331.5H238.8V341.5H260.0V348.6H280.9V349.6H301.4V349.7H322.0V345.3H342.5V337.0H362.7V325.3H382.7V306.8H402.7V291.6H422.7V265.0H442.5V239.0H462.3V209.8H482.2V194.7H502.4"/></g>
<path d="M81.5,250.0H89.8V259.4H116.6V272.4H142.2V285.4H165.9V299.8H189.0V315.0H211.2V327.9H233.2V338.3H254.5V344.9H275.5V347.4H296.0V348.0H316.5V345.3H337.2V338.7H357.4V328.2H377.4V312.2H397.4V291.0H417.4V263.0H437.3V229.6H457.0V192.5H476.9V156.6H496.9V128.3H516.6V114.5H536.5V123.1H565.7" fill="none" stroke="#d80000" stroke-width="2.3" stroke-linejoin="miter"/>
<rect x="81.5" y="73.2" width="669.7" height="344.3" fill="none" stroke="#000" stroke-width="1.5"/>
<g fill="#000" stroke="#000" stroke-width="0.3"><text x="70.6" y="423.9" text-anchor="end" font-size="17.5">0</text><text x="70.6" y="374.7" text-anchor="end" font-size="17.5">2</text><text x="70.6" y="325.5" text-anchor="end" font-size="17.5">4</text><text x="70.6" y="276.3" text-anchor="end" font-size="17.5">6</text><text x="70.6" y="227.2" text-anchor="end" font-size="17.5">8</text><text x="70.6" y="178.0" text-anchor="end" font-size="17.5">10</text><text x="70.6" y="128.8" text-anchor="end" font-size="17.5">12</text><text x="70.6" y="79.6" text-anchor="end" font-size="17.5">14</text><text x="68.0" y="443" font-size="17.5">10<tspan dx="-0.4" dy="-8.6" font-size="13.7">4</tspan></text><text x="291.2" y="443" font-size="17.5">10<tspan dx="-0.4" dy="-8.6" font-size="13.7">5</tspan></text><text x="514.5" y="443" font-size="17.5">10<tspan dx="-0.4" dy="-8.6" font-size="13.7">6</tspan></text><text x="737.7" y="443" font-size="17.5">10<tspan dx="-0.4" dy="-8.6" font-size="13.7">7</tspan></text>
<text x="316.9" y="469.2" font-size="17.4">Years (g=2.2, μ=0.5x10<tspan dy="-8" font-size="13.9">-8</tspan><tspan dy="8">)</tspan></text>
<text transform="translate(30.2,365.2) rotate(-90)" font-size="17.4">Effective population size (x10<tspan dy="-8" font-size="13.9">4</tspan><tspan dy="8">)</tspan></text>
</g>
</svg>
</body></html>
